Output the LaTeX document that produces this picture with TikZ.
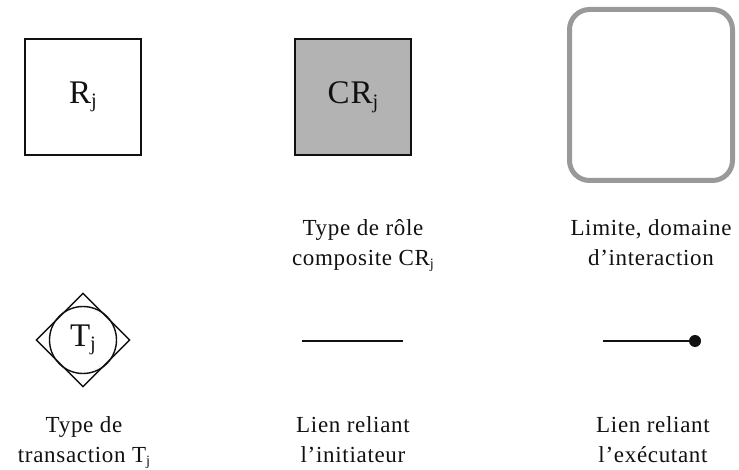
\documentclass[tikz,border=0pt]{standalone}
\usepackage{fontspec}
\setmainfont[LetterSpace=3]{Liberation Serif}
\usetikzlibrary{shapes.geometric}
\newcommand\idx[1]{\raisebox{-0.14em}{\scalebox{0.62}{#1}}}
\definecolor{inkc}{HTML}{111111}
\definecolor{rolefill}{HTML}{B3B3B3}
\definecolor{limitc}{HTML}{999999}
\tikzset{
  rolebox/.style={draw=inkc, line width=1.6pt, minimum width=116pt, minimum height=116pt, inner sep=0pt, font=\fontsize{33}{36}\selectfont, text=inkc},
  limitbox/.style={draw=limitc, line width=5pt, rounded corners=20pt, minimum width=163pt, minimum height=171pt, inner sep=0pt},
  caption/.style={align=center, font=\fontsize{23}{30}\selectfont, text=inkc, inner sep=0pt, anchor=north},
  linkline/.style={draw=inkc, line width=1.5pt},
}
\begin{document}
\begin{tikzpicture}[x=1pt, y=-1pt]
\useasboundingbox (0,0) rectangle (739,470);
% top row: role, composite role, boundary
\node[rolebox] (role) at (83,97) {R\idx{j}};
\node[rolebox, fill=rolefill] (crole) at (353,97) {CR\idx{j}};
\node[limitbox] (limit) at (651,95) {};
\node[caption] (crolecap) at (363,219) {Type de rôle\\composite CR\idx{j}};
\node[caption] (limitcap) at (651,219) {Limite, domaine\\d’interaction};
% bottom row: transaction, initiator link, executor link
\node[diamond, draw=inkc, line width=1.4pt, minimum width=94pt, minimum height=94pt, inner sep=0pt] (tdiam) at (83,340) {};
\node[circle, draw=inkc, line width=1.4pt, minimum size=67pt, inner sep=0pt, font=\fontsize{33}{36}\selectfont, text=inkc] (tcirc) at (83,340) {T\idx{j}};
\node[caption] (tcap) at (84,416) {Type de\\transaction T\idx{j}};
\coordinate (ia) at (302,341);
\coordinate (ib) at (403,341);
\draw[linkline] (ia) -- (ib);
\node[caption] (icap) at (353,416) {Lien reliant\\l’initiateur};
\coordinate (ea) at (603,341);
\node[circle, fill=inkc, minimum size=12pt, inner sep=0pt] (edot) at (695,341) {};
\draw[linkline] (ea) -- (edot);
\node[caption] (ecap) at (653,416) {Lien reliant\\l’exécutant};
\end{tikzpicture}
\end{document}
